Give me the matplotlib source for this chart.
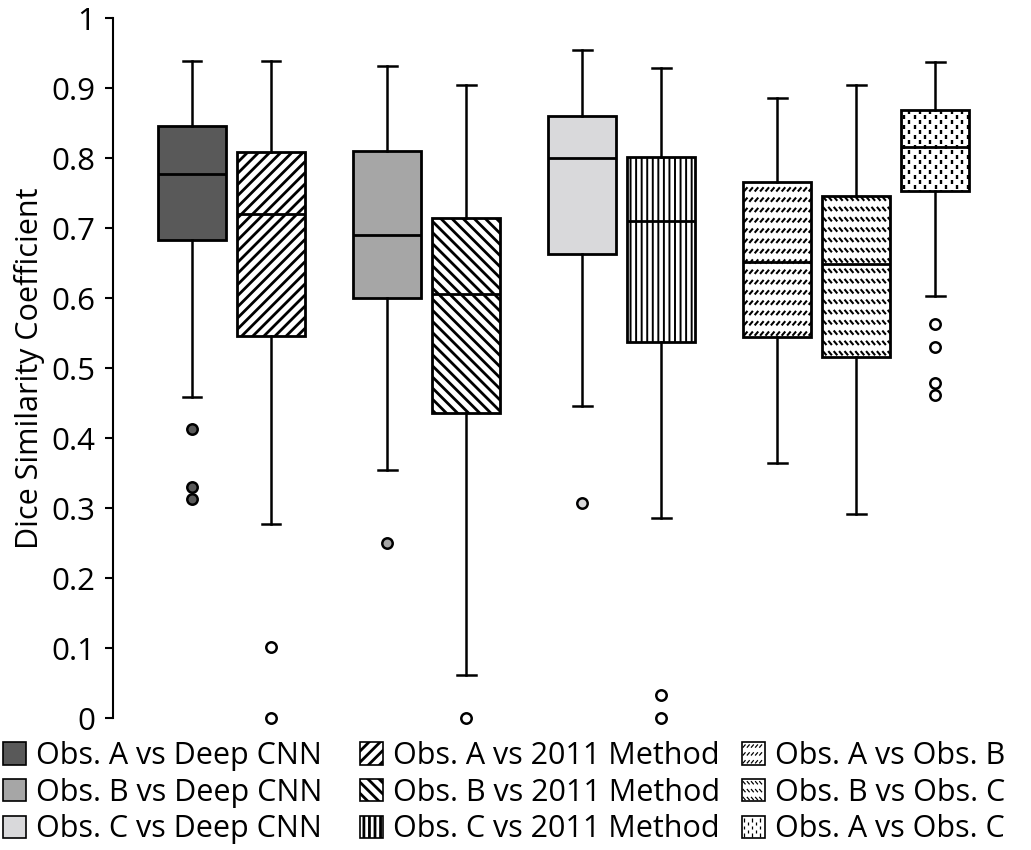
import numpy as np
import matplotlib.pyplot as plt
from matplotlib.patches import Patch, Rectangle
from matplotlib.collections import LineCollection
from matplotlib.legend_handler import HandlerBase

plt.rcParams['font.family'] = ['Open Sans', 'DejaVu Sans']
plt.rcParams['hatch.linewidth'] = 2.0

# Box order as drawn left to right
labels = ['Obs. A vs Deep CNN', 'Obs. A vs 2011 Method',
          'Obs. B vs Deep CNN', 'Obs. B vs 2011 Method',
          'Obs. C vs Deep CNN', 'Obs. C vs 2011 Method',
          'Obs. A vs Obs. B', 'Obs. B vs Obs. C', 'Obs. A vs Obs. C']
group_sizes = [2, 2, 2, 3]

q1 = [0.683, 0.546, 0.600, 0.436, 0.663, 0.537, 0.544, 0.516, 0.753]
med = [0.777, 0.720, 0.690, 0.606, 0.800, 0.710, 0.651, 0.649, 0.816]
q3 = [0.846, 0.809, 0.810, 0.714, 0.860, 0.801, 0.766, 0.746, 0.869]
whislo = [0.459, 0.277, 0.354, 0.061, 0.446, 0.286, 0.364, 0.291, 0.603]
whishi = [0.939, 0.939, 0.932, 0.904, 0.954, 0.928, 0.886, 0.904, 0.937]
fliers = [[0.413, 0.330, 0.313], [0.101, 0.0], [0.250], [0.0], [0.307],
          [0.033, 0.0], [], [], [0.563, 0.530, 0.479, 0.461]]

yticks = [0, 0.1, 0.2, 0.3, 0.4, 0.5, 0.6, 0.7, 0.8, 0.9, 1.0]
ytick_labels = ['0', '0.1', '0.2', '0.3', '0.4', '0.5', '0.6', '0.7', '0.8', '0.9', '1']

# styling
fills = ['#595959', 'white', '#a6a6a6', 'white', '#d9d9db', 'white', 'white', 'white', 'white']
hatches = [None, '///', None, '\\\\\\', None, '|||', None, None, None]
patterns = [None, None, None, None, None, None, 'up', 'down', 'dots']
legend_cols = [[0, 2, 4], [1, 3, 5], [6, 7, 8]]
legend_x = [3, 360, 742]


def pattern_segs(kind, x0, y0, x1, y1, s=1.0, inside=False):
    # short-dash fill patterns (units: pixels * s)
    segs = []
    m = 0 if inside else 6 * s
    if kind in ('up', 'down'):
        row, step, w, h = 10.3 * s, 5.4 * s, 3.6 * s, 4.2 * s
        y = y0 + 1.5 * s - (row if not inside else 0)
        while y + h <= y1 - 1 * s + m:
            x = x0 + 1 * s - m
            while x + w <= x1 - 0.5 * s + m:
                if kind == 'up':
                    segs.append([(x, y), (x + w, y + h)])
                else:
                    segs.append([(x, y + h), (x + w, y)])
                x += step
            y += row
    else:
        col, period, h = 5.3 * s, 10.0 * s, 4.5 * s
        x = x0 + 2.5 * s
        i = 0
        while x < x1 - 1.5 * s:
            y = y0 + 1.5 * s + (period / 2 if i % 2 else 0) - (period if not inside else 0)
            while y + h <= y1 - 1 * s + m:
                segs.append([(x, y), (x, y + h)])
                y += period
            x += col
            i += 1
    return segs


class PatternHandler(HandlerBase):
    def __init__(self, kind):
        super().__init__()
        self.kind = kind

    def create_artists(self, legend, orig_handle, xdescent, ydescent,
                       width, height, fontsize, trans):
        x0, y0 = -xdescent, -ydescent
        rect = Rectangle((x0, y0), width, height, facecolor='white',
                         edgecolor='black', lw=1.2, transform=trans)
        segs = pattern_segs(self.kind, x0, y0, x0 + width, y0 + height, s=0.55, inside=True)
        lc = LineCollection(segs, colors='black', linewidths=0.9, transform=trans)
        return [rect, lc]


# positions: slots of width 1, extra gap between groups
positions = []
pos = 0.0
for g in group_sizes:
    for k in range(g):
        positions.append(pos)
        pos += 1.0
    pos += 0.47

stats = []
for i in range(len(labels)):
    stats.append(dict(label=labels[i], q1=q1[i], med=med[i], q3=q3[i],
                      whislo=whislo[i], whishi=whishi[i], fliers=fliers[i]))

fig = plt.figure(figsize=(10.31, 8.5), dpi=100)
ax = fig.add_axes([113 / 1031, 132 / 850, 907 / 1031, 700 / 850])
ax.set_xlim(-1.0, 10.48)
ax.set_ylim(0, 1)

res = ax.bxp(stats, positions=positions, widths=0.86, capwidths=0.24,
             patch_artist=True, manage_ticks=False,
             boxprops=dict(linewidth=2.0, edgecolor='black', zorder=2),
             medianprops=dict(color='black', linewidth=2.0, zorder=3),
             whiskerprops=dict(color='black', linewidth=1.8),
             capprops=dict(color='black', linewidth=1.8),
             flierprops=dict(marker='o', markersize=7.5, markeredgecolor='black',
                             markeredgewidth=1.8, linestyle='none'))

inv = ax.transData.inverted()
for i, box in enumerate(res['boxes']):
    box.set_facecolor(fills[i])
    if hatches[i]:
        box.set_hatch(hatches[i])
        if hatches[i] == '|||' and hasattr(box, 'set_hatch_linewidth'):
            box.set_hatch_linewidth(1.4)
    res['fliers'][i].set_markerfacecolor(fills[i])
    res['fliers'][i].set_clip_on(False)
    if patterns[i]:
        ext = box.get_path().get_extents()
        (px0, py0), (px1, py1) = ax.transData.transform([[ext.x0, ext.y0], [ext.x1, ext.y1]])
        segs = np.array(pattern_segs(patterns[i], px0, py0, px1, py1))
        segs = inv.transform(segs.reshape(-1, 2)).reshape(-1, 2, 2)
        lw = 1.7 if patterns[i] == 'dots' else 1.5
        lc = LineCollection(segs, colors='black', linewidths=lw, zorder=2.5)
        ax.add_collection(lc, autolim=False)
        lc.set_clip_path(box)

for ln in res['whiskers'] + res['caps']:
    ln.set_clip_on(False)

ax.spines[['top', 'right', 'bottom']].set_visible(False)
ax.spines['left'].set_linewidth(1.5)
ax.set_xticks([])
ax.set_yticks(yticks)
ax.set_yticklabels(ytick_labels)
ax.tick_params(axis='y', direction='out', length=6, width=1.5, pad=7, labelsize=22.5)
ax.set_ylabel('Dice Similarity Coefficient', fontsize=22)
ax.yaxis.set_label_coords(-0.075, 0.5)

# legend: three columns placed separately
for c, idxs in enumerate(legend_cols):
    handles = []
    hmap = {}
    for i in idxs:
        h = Patch(facecolor=fills[i], edgecolor='black', lw=1.2,
                  hatch=hatches[i], label=labels[i])
        if patterns[i]:
            hmap[h] = PatternHandler(patterns[i])
        handles.append(h)
    fig.legend(handles=handles, handler_map=hmap, loc='upper left',
               bbox_to_anchor=(legend_x[c] / 1031, 1 - 741 / 850),
               frameon=False, borderpad=0, borderaxespad=0,
               handlelength=0.75, handleheight=0.75, handletextpad=0.33,
               labelspacing=0.22, fontsize=22)

fig.savefig('out.png', dpi=100)
